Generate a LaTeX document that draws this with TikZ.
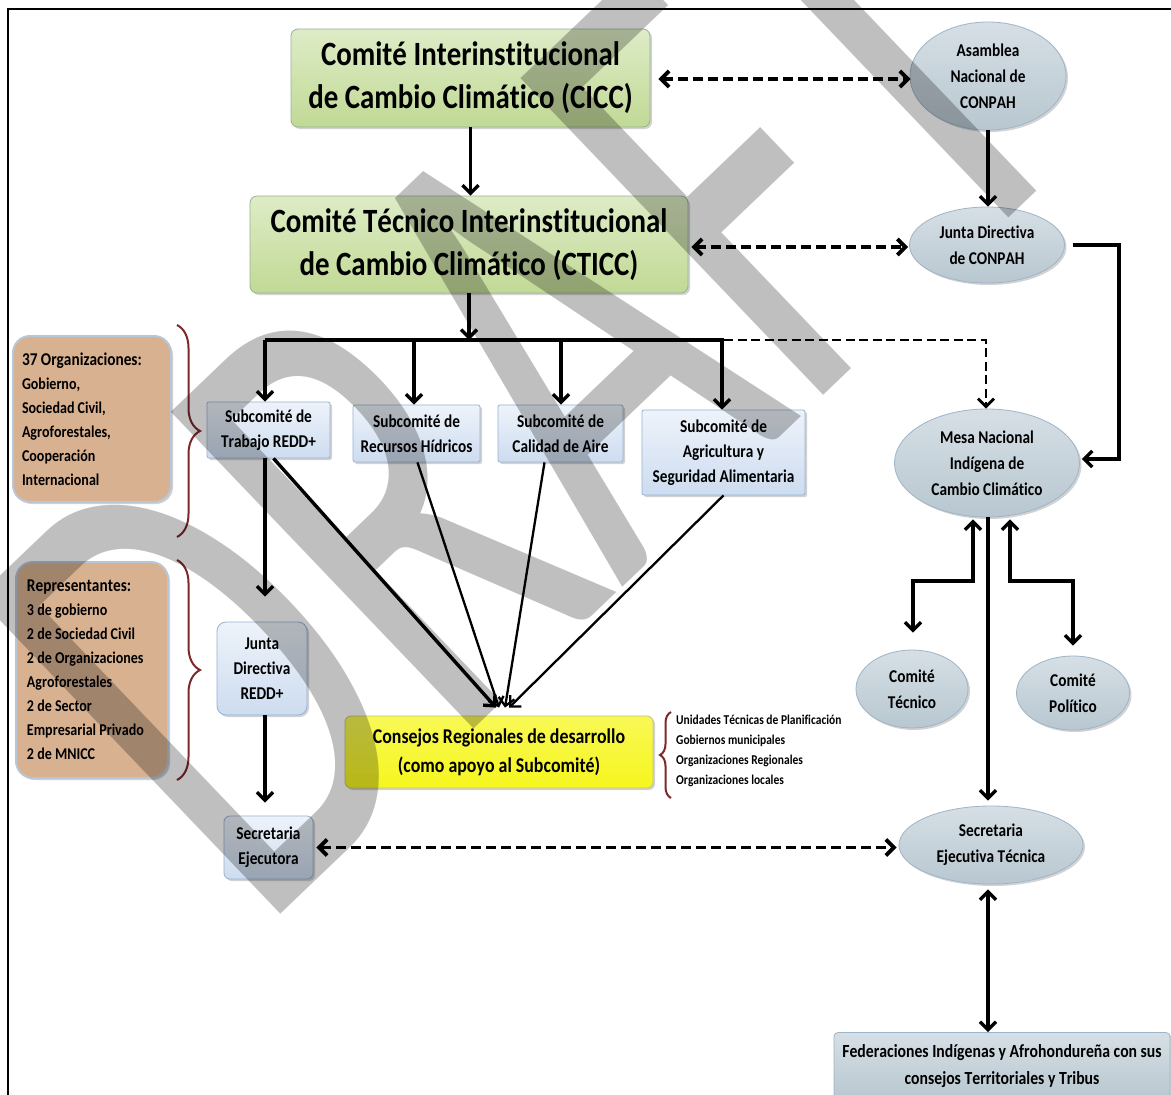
\documentclass[tikz,border=0pt]{standalone}
\usepackage{fontspec}
\setmainfont{Carlito}[FakeStretch=0.85, Ligatures={NoCommon}, Kerning=Off]
\newfontfamily\wmfont{Carlito}
\usetikzlibrary{arrows.meta,shapes.geometric,shadows,decorations.pathreplacing,calc}
\definecolor{grnT}{RGB}{222,236,198}
\definecolor{grnB}{RGB}{193,217,150}
\definecolor{grnE}{RGB}{150,178,150}
\definecolor{bluT}{RGB}{238,243,250}
\definecolor{bluB}{RGB}{205,220,240}
\definecolor{bluE}{RGB}{150,178,210}
\definecolor{gryT}{RGB}{214,223,229}
\definecolor{gryB}{RGB}{184,199,208}
\definecolor{gryE}{RGB}{158,181,200}
\definecolor{brnF}{RGB}{216,177,145}
\definecolor{brnE}{RGB}{185,198,214}
\definecolor{ylwF}{RGB}{246,246,30}
\definecolor{ylwE}{RGB}{195,195,120}
\definecolor{braceC}{RGB}{125,40,45}
\tikzset{
  shad/.style={drop shadow={shadow xshift=2pt,shadow yshift=-2pt,opacity=0.35,fill=black!50}},
  gbox/.style={rectangle, rounded corners=7pt, draw=grnE, line width=0.8pt, top color=grnT, bottom color=grnB, shad, align=flush center, inner sep=0pt, font=\bfseries\fontsize{34}{43}\selectfont},
  bbox/.style={rectangle, rounded corners=2pt, draw=bluE, line width=0.8pt, top color=bluT, bottom color=bluB, shad, align=flush center, inner sep=0pt, font=\bfseries\fontsize{18}{25}\selectfont},
  gell/.style={ellipse, draw=gryE, line width=0.8pt, top color=gryT, bottom color=gryB, shad, align=flush center, inner sep=0pt, font=\bfseries\fontsize{18}{26}\selectfont},
  gbx/.style={rectangle, rounded corners=4pt, draw=gryE, line width=0.8pt, top color=gryT, bottom color=gryB, shad, align=flush center, inner sep=0pt, font=\bfseries\fontsize{18.5}{27}\selectfont},
  nbox/.style={rectangle, rounded corners=17pt, draw=brnE, line width=2pt, fill=brnF, shad, align=flush left, inner ysep=0pt, font=\bfseries\fontsize{16.5}{24}\selectfont},
  ybox/.style={rectangle, rounded corners=6pt, draw=ylwE, line width=0.8pt, top color=ylwF!75!white, bottom color=ylwF, shad, align=flush center, inner sep=0pt, font=\bfseries\fontsize{21}{29}\selectfont},
  ln/.style={line width=3.4pt},
  tipb/.tip={Straight Barb[length=8pt,width=16pt]},
  arr/.style={line width=3.4pt, -tipb},
  arrd/.style={line width=3.4pt, tipb-tipb},
  thin/.style={line width=2.3pt, -tipb},
  dsh/.style={line width=3.8pt, dash pattern=on 10pt off 5pt},
  dd/.style={dsh, tipb-tipb},
  bracepath/.style={draw=braceC, line width=2pt, decorate, decoration={brace, amplitude=#1}},
}
\begin{document}
\begin{tikzpicture}[x=1pt,y=-1pt]
\useasboundingbox (0,0) rectangle (1171,1095);
\fill[white] (0,0) rectangle (1171,1095);
\draw[line width=2.5pt] (8,1110) -- (8,9) -- (1185,9);

% top boxes
\node[gbox, minimum width=359pt, minimum height=98pt] (cicc) at (470.5,78) {Comité Interinstitucional\\de Cambio Climático (CICC)};
\node[gbox, minimum width=438pt, minimum height=97pt] (cticc) at (469,244.5) {Comité Técnico Interinstitucional\\de Cambio Climático (CTICC)};

% CONPAH side
\node[gell, minimum width=156pt, minimum height=108pt] (asam) at (988,76) {Asamblea\\Nacional de\\CONPAH};
\node[gell, minimum width=155pt, minimum height=76pt] (jdc) at (987,245) {Junta Directiva\\de CONPAH};
\node[gell, minimum width=185pt, minimum height=108pt] (mesa) at (987,463) {Mesa Nacional\\Indígena de\\Cambio Climático};
\node[gell, minimum width=112pt, minimum height=78pt] (ctec) at (912,689) {Comité\\Técnico};
\node[gell, minimum width=113pt, minimum height=74pt] (cpol) at (1073,693) {Comité\\Político};
\node[gell, minimum width=184pt, minimum height=78pt] (sec2) at (991,845) {Secretaria\\Ejecutiva Técnica};
\node[gbx, minimum width=336pt, minimum height=67pt] (fed) at (1002,1066) {Federaciones Indígenas y Afrohondureña con sus\\consejos Territoriales y Tribus};

% left notes
\node[nbox, minimum width=158pt, minimum height=166pt, text width=140pt, inner xsep=9pt] (org) at (92,419) {{\fontsize{18}{24}\selectfont 37 Organizaciones:}\\Gobierno,\\Sociedad Civil,\\Agroforestales,\\Cooperación\\Internacional};
\node[nbox, minimum width=152pt, minimum height=216pt, text width=130pt, inner xsep=11pt] (rep) at (92,670) {{\fontsize{18}{24}\selectfont Representantes:}\\3 de gobierno\\2 de Sociedad Civil\\2 de Organizaciones\\Agroforestales\\2 de Sector\\Empresarial Privado\\2 de MNICC};

% subcommittees
\node[bbox, minimum width=123pt, minimum height=56pt] (trab) at (268.5,430) {Subcomité de\\Trabajo REDD+};
\node[bbox, minimum width=127pt, minimum height=57pt] (rec) at (416.5,433.5) {Subcomité de\\Recursos Hídricos};
\node[bbox, minimum width=125pt, minimum height=57pt] (cal) at (560.5,433.5) {Subcomité de\\Calidad de Aire};
\node[bbox, minimum width=163pt, minimum height=85pt] (agr) at (723.5,452.5) {Subcomité de\\Agricultura y\\Seguridad Alimentaria};
\node[bbox, rounded corners=9pt, minimum width=90pt, minimum height=93pt] (jrr) at (262,668.5) {Junta\\Directiva\\REDD+};
\node[bbox, rounded corners=6pt, minimum width=89pt, minimum height=63pt] (secE) at (268.5,847.5) {Secretaria\\Ejecutora};
\node[ybox, minimum width=308pt, minimum height=72pt] (cons) at (499,752) {Consejos Regionales de desarrollo\\(como apoyo al Subcomité)};
\node[anchor=west, align=flush left, inner sep=0pt, font=\bfseries\fontsize{13.5}{20}\selectfont] (lst) at (676,751) {Unidades Técnicas de Planificación\\Gobiernos municipales\\Organizaciones Regionales\\Organizaciones locales};

% braces
\draw[bracepath=23pt] (177,325) -- (177,537);
\draw[bracepath=23pt] (177,560) -- (177,780);
\draw[bracepath=11pt] (671,798) -- (671,712);

% connectors
\coordinate (busC) at (470,340);
\coordinate (busL) at (265,340);
\coordinate (busR) at (724,340);
\coordinate (busD) at (986,340);
\coordinate (b2) at (414,340);
\coordinate (b3) at (561,340);
\coordinate (b4) at (722,340);
\draw[arr] (cicc.south) -- (cicc.south |- cticc.north);
\draw[arr] (cticc.south) -- (cticc.south |- busC);
\draw[ln] (busL) -- (busR);
\draw[line width=2.8pt, dash pattern=on 9pt off 4.5pt, -tipb] (busR) -- (busD) -- (busD |- mesa.north);
\draw[arr] (busL) -- (busL |- trab.north);
\draw[arr] (b2) -- (b2 |- rec.north);
\draw[arr] (b3) -- (b3 |- cal.north);
\draw[arr] (b4) -- (b4 |- agr.north);
\draw[arr, shorten >=25pt] (busL |- trab.south) -- (busL |- jrr.north);
\draw[arr, shorten >=13pt] (busL |- jrr.south) -- (busL |- secE.north);
\draw[line width=3.4pt, -tipb] ($(trab.south)+(5,0)$) -- ($(cons.north)+(-3,-8)$);
\draw[thin] ($(rec.south)+(1,0)$) -- ($(cons.north)+(0,-8)$);
\draw[thin] ($(cal.south)+(-16,0)$) -- ($(cons.north)+(6,-8)$);
\draw[thin] (agr.south) -- ($(cons.north)+(10,-8)$);

\draw[arr] (asam.south) -- (asam.south |- jdc.north);
\draw[dd] ($(cicc.east)+(8,1)$) -- ($(asam.west)+(1,3)$);
\draw[dd] ($(cticc.east)+(3,2.5)$) -- ($(jdc.west)+(-1,2)$);
\draw[arr] ($(jdc.east)+(8,0)$) -- ++(46,0) |- ($(mesa.east)+(2,-4)$);

\coordinate (c1) at (973,581);
\coordinate (c2) at (913,581);
\coordinate (c3) at (1010,581);
\coordinate (c4) at (1073,581);
\coordinate (c5) at (988,0);
\draw[arrd, shorten <=2pt, shorten >=17pt] (c1 |- mesa.south) -- (c1) -- (c2) -- (c2 |- ctec.north);
\draw[arrd, shorten <=2pt, shorten >=10pt] (c3 |- mesa.south) -- (c3) -- (c4) -- (c4 |- cpol.north);
\draw[arr, shorten >=5pt] (c5 |- mesa.south) -- (c5 |- sec2.north);
\draw[arrd, shorten <=5pt] (c5 |- sec2.south) -- (c5 |- fed.north);
\draw[dd, shorten <=3pt, shorten >=2pt] (secE.east) -- (sec2.west |- secE.east);

% watermark
\node[anchor=base west, rotate=43.7, xscale=0.634, transform shape, inner sep=0pt, font=\wmfont\fontsize{683}{683}\selectfont, text=black, text opacity=0.25] (wm) at (259,935) {DRAFT};
\end{tikzpicture}
\end{document}
